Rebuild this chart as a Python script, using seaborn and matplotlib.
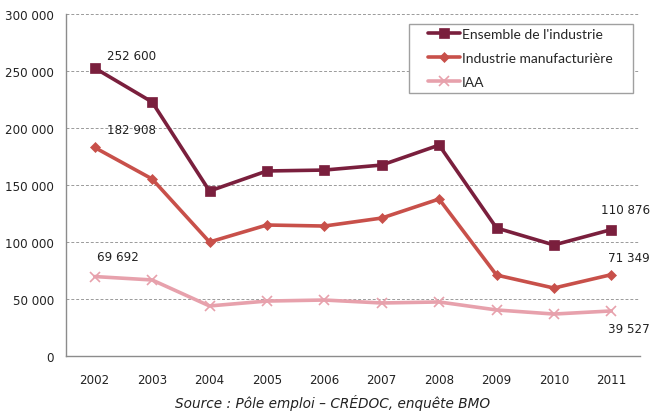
import pandas as pd
import matplotlib.pyplot as plt
import seaborn as sns
from matplotlib.patches import Rectangle
from matplotlib.ticker import FuncFormatter, MultipleLocator

sns.set_style("white")
plt.rcParams['font.family'] = ['DejaVu Sans']

years = ["2002", "2003", "2004", "2005", "2006", "2007", "2008", "2009", "2010", "2011"]
ensemble = [252600, 222800, 144700, 162300, 163100, 167500, 185000, 112300, 97400, 110876]
manuf = [182908, 155300, 100000, 114900, 114000, 121000, 137700, 71000, 59600, 71349]
iaa = [69692, 66700, 43900, 48200, 49100, 46500, 47400, 40400, 36800, 39527]

series_names = ["Ensemble de l'industrie", "Industrie manufacturière", "IAA"]
colors = ["#7a1f3d", "#c8504a", "#e7a1ac"]
markers = ["s", "D", "x"]
msizes = [7, 5.5, 7]

df = pd.DataFrame({"year": years * 3,
                   "value": ensemble + manuf + iaa,
                   "serie": [s for s in series_names for _ in years]})

fig = plt.figure(figsize=(6.53, 4.14), dpi=100)
ax = fig.add_axes([66 / 653, 57 / 414, 574 / 653, 342 / 414])

for name, col, m, ms in zip(series_names, colors, markers, msizes):
    sub = df[df["serie"] == name]
    sns.lineplot(data=sub, x="year", y="value", ax=ax, color=col, lw=2.6,
                 marker=m, markersize=ms, markeredgecolor=col,
                 markeredgewidth=1.2 if m == "x" else 0.5, label=name, sort=False)

ax.set_xlim(-0.5, 9.5)
ax.set_ylim(0, 300000)
ax.yaxis.set_major_locator(MultipleLocator(50000))
ax.yaxis.set_major_formatter(FuncFormatter(lambda v, p: f"{int(v):,}".replace(",", " ")))
ax.set_xlabel("")
ax.set_ylabel("")
ax.grid(axis="y", color="#9a9a9a", ls=(0, (3, 2)), lw=0.7)
ax.set_axisbelow(True)

# tick marks between categories on x axis
ax.set_xticks(range(len(years)))
ax.set_xticklabels(years)
ax.set_xticks([i - 0.5 for i in range(len(years) + 1)], minor=True)
ax.tick_params(axis="x", which="major", length=0, pad=12, labelsize=8.6)
ax.tick_params(axis="x", which="minor", length=5, color="#8c8c8c", direction="out")
ax.tick_params(axis="y", length=5, color="#8c8c8c", labelsize=8.6, direction="out")
for side in ["top", "right"]:
    ax.spines[side].set_visible(False)
for side in ["left", "bottom"]:
    ax.spines[side].set_color("#8c8c8c")
    ax.spines[side].set_linewidth(1)
for lbl in ax.get_xticklabels() + ax.get_yticklabels():
    lbl.set_color("#222222")

# data labels
lab = dict(fontsize=8.6, color="#222222")
ax.annotate("252 600", (0, ensemble[0]), xytext=(9, 4), textcoords="offset points", ha="left", va="bottom", **lab)
ax.annotate("182 908", (0, manuf[0]), xytext=(9, 8), textcoords="offset points", ha="left", va="bottom", **lab)
ax.annotate("69 692", (0, iaa[0]), xytext=(2, 10), textcoords="offset points", ha="left", va="bottom", **lab)
ax.annotate("110 876", (9, ensemble[9]), xytext=(28, 10), textcoords="offset points", ha="right", va="bottom", **lab)
ax.annotate("71 349", (9, manuf[9]), xytext=(28, 8), textcoords="offset points", ha="right", va="bottom", **lab)
ax.annotate("39 527", (9, iaa[9]), xytext=(28, -8), textcoords="offset points", ha="right", va="top", **lab)

# legend: entries without frame, box drawn separately (wider left margin like the original)
leg = ax.legend(loc="upper left", bbox_to_anchor=(428 / 653, 1 - 29 / 414),
                bbox_transform=fig.transFigure, frameon=False, handlelength=2.3,
                handletextpad=0.15, borderpad=0, labelspacing=0.85, borderaxespad=0,
                prop={"family": "Lato", "size": 10})
leg.set_zorder(6)
ax.add_patch(Rectangle((409 / 653, 1 - 94 / 414), 224 / 653, 69 / 414,
                       transform=fig.transFigure, facecolor="white",
                       edgecolor="#a0a0a0", lw=1, zorder=5, clip_on=False))

fig.text(333 / 653, 1 - 403 / 414, "Source : Pôle emploi – CRÉDOC, enquête BMO",
         ha="center", va="center", style="italic", fontsize=9.8, color="#222222")

plt.savefig("out.png", dpi=100)
